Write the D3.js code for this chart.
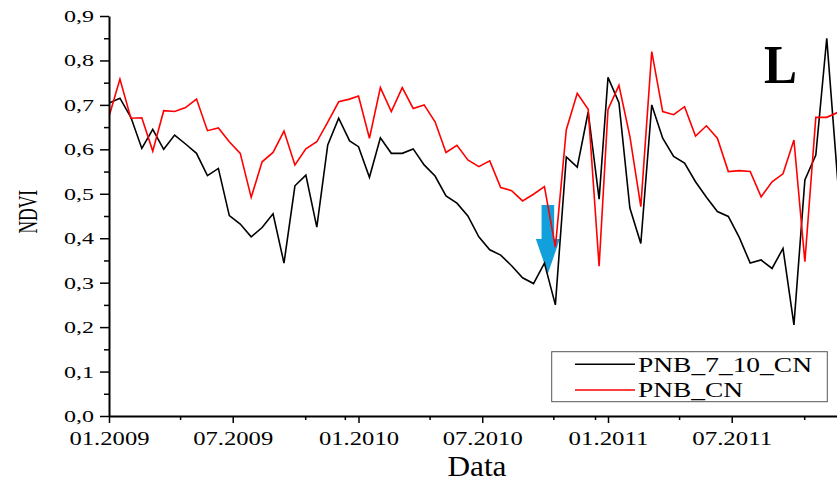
<!DOCTYPE html>
<html>
<head>
<meta charset="utf-8">
<script src="https://cdn.jsdelivr.net/npm/d3@7"></script>
<style>
  body { margin: 0; background: #fff; }
  text { font-family: "Liberation Serif", "Times New Roman", serif; fill: #000; }
</style>
</head>
<body>
<div id="chart"></div>
<script>
// Dates des composites 16 jours (MODIS)
const dates = [
  "2009-01-01", "2009-01-17", "2009-02-02", "2009-02-18", "2009-03-06", "2009-03-22", "2009-04-07", "2009-04-23",
  "2009-05-09", "2009-05-25", "2009-06-10", "2009-06-26", "2009-07-12", "2009-07-28", "2009-08-13", "2009-08-29",
  "2009-09-14", "2009-09-30", "2009-10-16", "2009-11-01", "2009-11-17", "2009-12-03", "2009-12-19",
  "2010-01-01", "2010-01-17", "2010-02-02", "2010-02-18", "2010-03-06", "2010-03-22", "2010-04-07", "2010-04-23",
  "2010-05-09", "2010-05-25", "2010-06-10", "2010-06-26", "2010-07-12", "2010-07-28", "2010-08-13", "2010-08-29",
  "2010-09-14", "2010-09-30", "2010-10-16", "2010-11-01", "2010-11-17", "2010-12-03", "2010-12-19",
  "2011-01-01", "2011-01-17", "2011-02-02", "2011-02-18", "2011-03-06", "2011-03-22", "2011-04-07", "2011-04-23",
  "2011-05-09", "2011-05-25", "2011-06-10", "2011-06-26", "2011-07-12", "2011-07-28", "2011-08-13", "2011-08-29",
  "2011-09-14", "2011-09-30", "2011-10-16", "2011-11-01", "2011-11-17", "2011-12-03"
];

const pnb7_10_CN = [
  0.704, 0.715, 0.672, 0.602, 0.645, 0.600, 0.632, 0.612, 0.591, 0.541, 0.557, 0.451,
  0.432, 0.403, 0.424, 0.455, 0.344, 0.518, 0.542, 0.425, 0.610, 0.670, 0.619,
  0.606, 0.537, 0.626, 0.591, 0.591, 0.601, 0.565, 0.540, 0.495, 0.479, 0.450, 0.403,
  0.374, 0.362, 0.338, 0.311, 0.298, 0.344, 0.250, 0.583, 0.560, 0.684, 0.488,
  0.762, 0.705, 0.468, 0.388, 0.700, 0.625, 0.584, 0.569, 0.527, 0.492, 0.460, 0.449,
  0.402, 0.344, 0.351, 0.332, 0.377, 0.205, 0.531, 0.587, 0.850, 0.530
];

const pnbCN = [
  0.674, 0.758, 0.670, 0.671, 0.596, 0.687, 0.685, 0.694, 0.713, 0.642, 0.648, 0.617,
  0.591, 0.492, 0.572, 0.593, 0.641, 0.565, 0.601, 0.617, 0.661, 0.707, 0.713,
  0.720, 0.625, 0.739, 0.685, 0.739, 0.692, 0.700, 0.662, 0.593, 0.609, 0.576, 0.561,
  0.574, 0.514, 0.507, 0.484, 0.499, 0.516, 0.380, 0.644, 0.726, 0.690, 0.337,
  0.690, 0.744, 0.629, 0.471, 0.820, 0.685, 0.678, 0.696, 0.630, 0.653, 0.625, 0.550,
  0.552, 0.550, 0.493, 0.527, 0.545, 0.621, 0.347, 0.672, 0.672, 0.683
];

const seriesNames = ["PNB_7_10_CN", "PNB_CN"];
const majorTicks = ["2009-01-01", "2009-07-01", "2010-01-01", "2010-07-01", "2011-01-01", "2011-07-01"];
const minorTicks = ["2009-04-15", "2009-10-15", "2009-12-12", "2010-04-15", "2010-10-13", "2010-12-13", "2011-04-15", "2011-10-15"];
const yTicks = [0, 0.1, 0.2, 0.3, 0.4, 0.5, 0.6, 0.7, 0.8, 0.9];
const yMinorTicks = [0.05, 0.15, 0.25, 0.35, 0.45, 0.55, 0.65, 0.75, 0.85];

// Flèche bleue (annotation) : date et valeurs NDVI
const arrowDate = "2010-10-05";
const arrowValues = { top: 0.475, neck: 0.398, tip: 0.32 };

const width = 837, height = 483;
const margin = { top: 16, right: 0, bottom: 67, left: 109 };

const parse = d3.timeParse("%Y-%m-%d");

const svg = d3.select("#chart").append("svg")
  .attr("width", width)
  .attr("height", height);

svg.append("rect").attr("width", width).attr("height", height).attr("fill", "#fff");

const x = d3.scaleTime()
  .domain([parse("2009-01-01"), parse("2011-12-02")])
  .range([margin.left, width - margin.right]);

const y = d3.scaleLinear()
  .domain([0, 0.9])
  .range([height - margin.bottom, margin.top]);

// Clip
svg.append("clipPath").attr("id", "plot-clip")
  .append("rect")
  .attr("x", margin.left).attr("y", 0)
  .attr("width", width - margin.left).attr("height", height - margin.bottom);

// Flèche
const ax = x(parse(arrowDate));
const shaftW = 6.3, headW = 12;
svg.append("path")
  .attr("d", [
    "M", ax - shaftW, y(arrowValues.top),
    "L", ax + shaftW, y(arrowValues.top),
    "L", ax + shaftW, y(arrowValues.neck),
    "L", ax + headW, y(arrowValues.neck),
    "L", ax, y(arrowValues.tip),
    "L", ax - headW, y(arrowValues.neck),
    "L", ax - shaftW, y(arrowValues.neck),
    "Z"
  ].join(" "))
  .attr("fill", "#12a0dc");

// Lignes
const series = [
  { name: seriesNames[0], values: pnb7_10_CN, color: "#000" },
  { name: seriesNames[1], values: pnbCN, color: "#ff0000" }
];

const line = d3.line()
  .x((d, i) => x(parse(dates[i])))
  .y(d => y(d));

svg.append("g")
  .attr("clip-path", "url(#plot-clip)")
  .selectAll("path")
  .data(series)
  .enter()
  .append("path")
  .attr("fill", "none")
  .attr("stroke", d => d.color)
  .attr("stroke-width", 1.6)
  .attr("stroke-linejoin", "miter")
  .attr("d", d => line(d.values));

// Axe Y
const yAxis = svg.append("g")
  .attr("transform", `translate(${margin.left},0)`)
  .call(d3.axisLeft(y)
    .tickValues(yTicks)
    .tickSize(9)
    .tickSizeOuter(0)
    .tickPadding(6)
    .tickFormat(d => d3.format(".1f")(d).replace(".", ",")));

yAxis.selectAll("text")
  .attr("font-size", 17)
  .attr("textLength", 30)
  .attr("lengthAdjust", "spacingAndGlyphs");

svg.append("g")
  .attr("transform", `translate(${margin.left},0)`)
  .call(d3.axisLeft(y).tickValues(yMinorTicks).tickSize(5).tickFormat(""))
  .call(g => g.select(".domain").remove());

// Axe X
const xAxis = svg.append("g")
  .attr("transform", `translate(0,${height - margin.bottom})`)
  .call(d3.axisBottom(x)
    .tickValues(majorTicks.map(parse))
    .tickSize(7)
    .tickSizeOuter(0)
    .tickPadding(8)
    .tickFormat(d3.timeFormat("%m.%Y")));

xAxis.selectAll("text")
  .attr("font-size", 19.5)
  .attr("textLength", 80)
  .attr("lengthAdjust", "spacingAndGlyphs");

svg.append("g")
  .attr("transform", `translate(0,${height - margin.bottom})`)
  .call(d3.axisBottom(x).tickValues(minorTicks.map(parse)).tickSize(4).tickFormat(""))
  .call(g => g.select(".domain").remove());

svg.selectAll(".domain").attr("stroke-width", 2);
svg.selectAll(".tick line").attr("stroke-width", 1.5);

// Titres des axes
svg.append("text")
  .attr("transform", "translate(36.7,211.7) scale(1.6,1) rotate(-90)")
  .attr("text-anchor", "middle")
  .attr("font-size", 17.5)
  .text("NDVI");

svg.append("text")
  .attr("x", 477)
  .attr("y", 476)
  .attr("text-anchor", "middle")
  .attr("font-size", 30)
  .attr("textLength", 59)
  .attr("lengthAdjust", "spacingAndGlyphs")
  .text("Data");

// Lettre du panneau
svg.append("text")
  .attr("x", 764)
  .attr("y", 82.7)
  .attr("font-size", 55)
  .attr("font-weight", "bold")
  .attr("textLength", 33)
  .attr("lengthAdjust", "spacingAndGlyphs")
  .text("L");

// Légende
const legend = svg.append("g");
legend.append("rect")
  .attr("x", 551.7).attr("y", 351.7)
  .attr("width", 275.6).attr("height", 50)
  .attr("fill", "#fff")
  .attr("stroke", "#555")
  .attr("stroke-width", 1);

const legendWidths = [174, 105];
series.forEach((s, i) => {
  const ly = 364.3 + i * 25.7;
  legend.append("line")
    .attr("x1", 575).attr("x2", 635)
    .attr("y1", ly).attr("y2", ly)
    .attr("stroke", s.color)
    .attr("stroke-width", 1.5);
  legend.append("text")
    .attr("x", 638)
    .attr("y", ly + 7.4)
    .attr("font-size", 20)
    .attr("textLength", legendWidths[i])
    .attr("lengthAdjust", "spacingAndGlyphs")
    .text(s.name);
});
</script>
</body>
</html>
